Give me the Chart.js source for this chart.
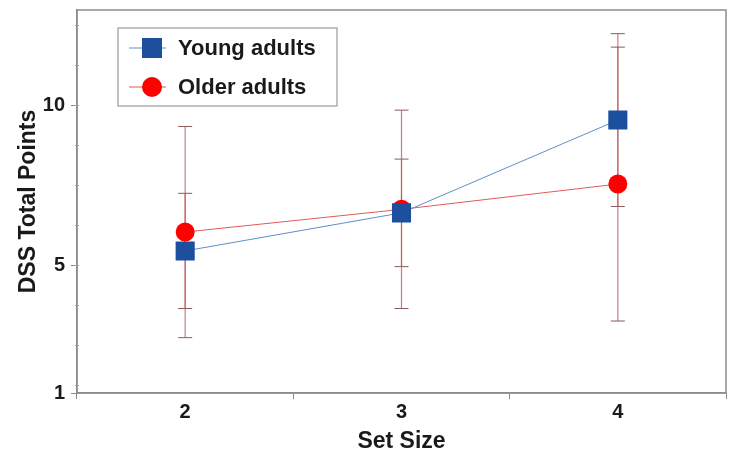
<!DOCTYPE html>
<html>
<head>
<meta charset="utf-8">
<script src="https://cdn.jsdelivr.net/npm/chart.js@4.4.1/dist/chart.umd.min.js"></script>
<style>
  html, body { margin: 0; padding: 0; background: #fff; }
  #wrap { width: 729px; height: 460px; position: relative; }
</style>
</head>
<body>
<div id="wrap"><canvas id="dssChart" width="729" height="460"></canvas></div>
<script>
const setSizes = ['2', '3', '4'];
const youngMeans = [5.44, 6.63, 9.53];
const youngErr = [1.8, 1.68, 2.7];
const olderMeans = [6.03, 6.74, 7.53];
const olderErr = [3.3, 3.1, 4.28];
const yLabelValues = [1, 5, 10];
const yMinorTicks = [1.25, 2.5, 3.75, 5, 6.25, 7.5, 8.75, 10, 11.25, 12.5];

const colors = {
    blueLine: '#5f8fc8',
    blueMark: '#1c4f9e',
    redLine: '#e05a5a',
    redMark: '#ff0000',
    errBar: 'rgba(190,90,95,0.8)',
    errCap: '#8a5a5a',
    frame: '#8c8c8c',
    text: '#1a1a1a',
}

const family = '"Liberation Sans", Arial, sans-serif';

// error bars + frame + minor ticks + legend box
const extras = {
    id: 'extras',
    beforeDatasetsDraw(chart) {
        const ctx = chart.ctx;
        const y = chart.scales.y;
        const sets = [[youngMeans, youngErr], [olderMeans, olderErr]];
        ctx.save();
        sets.forEach(([means, errs], di) => {
            const meta = chart.getDatasetMeta(di);
            meta.data.forEach((pt, i) => {
                const top = y.getPixelForValue(means[i] + errs[i]);
                const bot = y.getPixelForValue(means[i] - errs[i]);
                ctx.strokeStyle = colors.errBar;
                ctx.lineWidth = 1.2;
                ctx.beginPath();
                ctx.moveTo(pt.x, top);
                ctx.lineTo(pt.x, bot);
                ctx.stroke();
                ctx.strokeStyle = colors.errCap;
                ctx.lineWidth = 1;
                ctx.beginPath();
                ctx.moveTo(pt.x - 7, top); ctx.lineTo(pt.x + 7, top);
                ctx.moveTo(pt.x - 7, bot); ctx.lineTo(pt.x + 7, bot);
                ctx.stroke();
            });
        });
        ctx.restore();
    },
    afterDraw(chart) {
        const ctx = chart.ctx;
        const a = chart.chartArea;
        const y = chart.scales.y;
        ctx.save();
        ctx.strokeStyle = colors.frame;
        ctx.lineWidth = 1.5;
        ctx.strokeRect(a.left, a.top, a.right - a.left, a.bottom - a.top);
        ctx.lineWidth = 1;
        ctx.strokeStyle = '#a0a0a0';
        yMinorTicks.forEach(v => {
            const py = Math.round(y.getPixelForValue(v)) + 0.5;
            ctx.beginPath();
            ctx.moveTo(a.left - 2, py);
            ctx.lineTo(a.left + 2, py);
            ctx.stroke();
        });

        // legend box
        const lx = 118, ly = 28, lw = 219, lh = 78;
        ctx.fillStyle = '#fff';
        ctx.fillRect(lx, ly, lw, lh);
        ctx.strokeStyle = '#9a9a9a';
        ctx.lineWidth = 1.2;
        ctx.strokeRect(lx, ly, lw, lh);
        const rows = [
            { label: 'Young adults', line: colors.blueLine, mark: colors.blueMark, shape: 'rect', cy: 48 },
            { label: 'Older adults', line: colors.redLine, mark: colors.redMark, shape: 'circle', cy: 87 },
        ];
        rows.forEach(r => {
            ctx.strokeStyle = r.line;
            ctx.lineWidth = 1;
            ctx.beginPath();
            ctx.moveTo(129, r.cy); ctx.lineTo(166, r.cy);
            ctx.stroke();
            ctx.fillStyle = r.mark;
            if (r.shape === 'rect') {
                ctx.fillRect(142, r.cy - 10, 20, 20);
            } else {
                ctx.beginPath();
                ctx.arc(152, r.cy, 10, 0, Math.PI * 2);
                ctx.fill();
            }
            ctx.fillStyle = colors.text;
            ctx.font = 'bold 22px ' + family;
            ctx.textBaseline = 'middle';
            ctx.fillText(r.label, 178, r.cy + 1);
        });
        ctx.restore();
    }
}

new Chart(document.getElementById('dssChart'), {
    type: 'line',
    data: {
        labels: setSizes,
        datasets: [{
            label: 'Young adults',
            data: youngMeans,
            borderColor: colors.blueLine,
            borderWidth: 1,
            pointStyle: 'rect',
            pointRadius: 13.5,
            pointBackgroundColor: colors.blueMark,
            pointBorderColor: colors.blueMark,
            pointBorderWidth: 0,
            tension: 0,
        }, {
            label: 'Older adults',
            data: olderMeans,
            borderColor: colors.redLine,
            borderWidth: 1,
            pointStyle: 'circle',
            pointRadius: 9.5,
            pointBackgroundColor: colors.redMark,
            pointBorderColor: colors.redMark,
            pointBorderWidth: 0,
            tension: 0,
        }]
    },
    options: {
        responsive: false,
        animation: false,
        devicePixelRatio: 1,
        layout: {
            autoPadding: false,
            padding: { top: 10, right: 3, left: 0, bottom: 0 }
        },
        plugins: {
            legend: { display: false },
            tooltip: { enabled: false },
        },
        scales: {
            x: {
                type: 'category',
                offset: true,
                grid: {
                    offset: true,
                    drawOnChartArea: false,
                    tickLength: 6,
                    tickColor: colors.frame,
                },
                border: { color: colors.frame, width: 1.5 },
                ticks: {
                    color: colors.text,
                    font: { size: 20, weight: 'bold', family: family },
                    padding: 1,
                },
                title: {
                    display: true,
                    text: 'Set Size',
                    color: colors.text,
                    font: { size: 23, weight: 'bold', family: family },
                    padding: { top: 0, bottom: 5 },
                },
                afterFit(s) {
                    s.height = 67;
                    s.paddingLeft = 0;
                    s.paddingRight = 0;
                },
            },
            y: {
                type: 'linear',
                min: 1,
                max: 12.97,
                afterBuildTicks(s) {
                    s.ticks = yLabelValues.map(v => ({ value: v }));
                },
                grid: {
                    drawOnChartArea: false,
                    tickLength: 6,
                    tickColor: colors.frame,
                },
                border: { color: colors.frame, width: 1.5 },
                ticks: {
                    color: colors.text,
                    font: { size: 20, weight: 'bold', family: family },
                    padding: 6,
                },
                title: {
                    display: true,
                    text: 'DSS Total Points',
                    color: colors.text,
                    font: { size: 23, weight: 'bold', family: family },
                    padding: { top: 15, bottom: 0 },
                },
                afterFit(s) {
                    s.width = 77;
                    s.paddingTop = 0;
                    s.paddingBottom = 0;
                },
            }
        }
    },
    plugins: [extras]
});
</script>
</body>
</html>
